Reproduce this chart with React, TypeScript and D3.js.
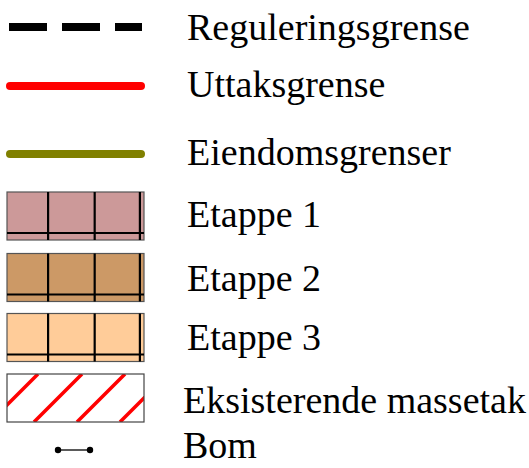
import React from 'react';
import * as d3 from 'd3';

// legend entries
const labels = [
  'Reguleringsgrense',
  'Uttaksgrense',
  'Eiendomsgrenser',
  'Etappe 1',
  'Etappe 2',
  'Etappe 3',
  'Eksisterende massetak',
  'Bom',
];
const kinds = ['dash', 'line', 'line', 'grid', 'grid', 'grid', 'hatch', 'bom'];
const colors = ['#000000', '#ff0000', '#808000', '#cc9999', '#cc9966', '#ffcc99', '#ff0000', '#000000'];

const W = 529;
const H = 468;
const symbolY = [27, 86, 154, 216, 277.5, 337.5, 398, 450];
const textY = [40, 97, 165, 227, 291, 350, 413, 458];
const textX = [187, 187, 187, 187, 187, 187, 183, 183];

const sx = d3.scaleLinear().domain([0, 1]).range([7, 144]);

const Symbol: React.FC<{ kind: string; color: string; cy: number; i: number }> = ({ kind, color, cy, i }) => {
  if (kind === 'dash') {
    return (
      <line x1={sx(0) + 2} x2={sx(1) - 2} y1={cy} y2={cy} stroke={color} strokeWidth={8} strokeDasharray="38 15" />
    );
  }
  if (kind === 'line') {
    return <line x1={sx(0) + 3} x2={sx(1) - 3} y1={cy} y2={cy} stroke={color} strokeWidth={8} strokeLinecap="round" />;
  }
  if (kind === 'grid') {
    const h = 48;
    const top = cy - h / 2;
    const cols = [0.3, 0.64, 0.97].map(sx);
    return (
      <g>
        <rect x={sx(0)} y={top} width={sx(1) - sx(0)} height={h} fill={color} stroke="#555" strokeWidth={1.2} />
        {cols.map((x, k) => (
          <line key={k} x1={x} x2={x} y1={top} y2={top + h} stroke="#000" strokeWidth={2.2} />
        ))}
        <line x1={sx(0)} x2={sx(1)} y1={top + h - 7} y2={top + h - 7} stroke="#000" strokeWidth={2.2} />
      </g>
    );
  }
  if (kind === 'hatch') {
    const h = 48;
    const top = cy - h / 2;
    const starts = [-5, 38, 82, 125, 168];
    return (
      <g>
        <clipPath id={`clip${i}`}>
          <rect x={sx(0)} y={top} width={sx(1) - sx(0)} height={h} />
        </clipPath>
        <rect x={sx(0)} y={top} width={sx(1) - sx(0)} height={h} fill="#fff" />
        <g clipPath={`url(#clip${i})`}>
          {starts.map((x, k) => (
            <line key={k} x1={x} y1={top} x2={x - h} y2={top + h} stroke={color} strokeWidth={3.5} />
          ))}
        </g>
        <rect x={sx(0)} y={top} width={sx(1) - sx(0)} height={h} fill="none" stroke="#444" strokeWidth={1.2} />
      </g>
    );
  }
  // bom
  return (
    <g>
      <line x1={58} x2={90} y1={cy} y2={cy} stroke={color} strokeWidth={1.3} />
      <circle cx={58} cy={cy} r={3.2} fill={color} />
      <circle cx={90} cy={cy} r={3.2} fill={color} />
    </g>
  );
};

export default function App() {
  return (
    <svg width={W} height={H} style={{ position: 'absolute', left: 0, top: 0, background: '#fff' }}>
      <rect width={W} height={H} fill="#fff" />
      {labels.map((label, i) => (
        <g key={label}>
          <Symbol kind={kinds[i]} color={colors[i]} cy={symbolY[i]} i={i} />
          <text x={textX[i]} y={textY[i]} fontFamily="'Liberation Serif', serif" fontSize={38} fill="#000">
            {label}
          </text>
        </g>
      ))}
    </svg>
  );
}
